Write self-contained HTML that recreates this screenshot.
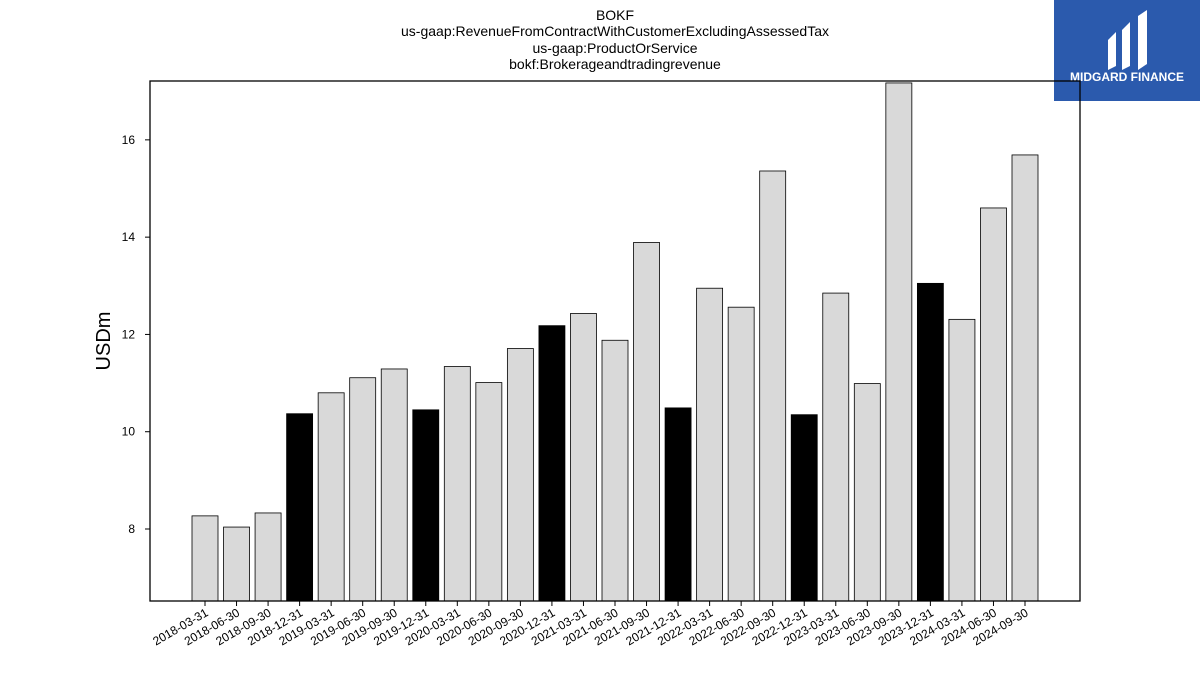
<!DOCTYPE html>
<html><head><meta charset="utf-8"><style>
body{margin:0;background:#fff;font-family:"Liberation Sans","DejaVu Sans",sans-serif;}
</style></head><body>
<svg id="chart" width="1200" height="675" xmlns="http://www.w3.org/2000/svg">
<g font-size="14" text-anchor="middle" fill="#000">
<text x="615" y="20">BOKF</text>
<text x="615" y="36">us-gaap:RevenueFromContractWithCustomerExcludingAssessedTax</text>
<text x="615" y="53">us-gaap:ProductOrService</text>
<text x="615" y="69">bokf:Brokerageandtradingrevenue</text>
</g>
<g>
<rect x="1054" y="0" width="146" height="101" fill="#2b5aad"/>
<path d="M1108 40 L1116 32 L1116 66 L1108 70 Z" fill="#fff"/>
<path d="M1122 30 L1130 22 L1130 66 L1122 70 Z" fill="#fff"/>
<path d="M1138 16 L1147 10 L1147 64 L1138 70 Z" fill="#fff"/>
<text x="1127" y="81" font-size="12" font-weight="bold" fill="#fff" text-anchor="middle">MIDGARD FINANCE</text>
</g>
<text transform="translate(110,341) rotate(-90)" font-size="20" text-anchor="middle">USDm</text>
<g id="plot"></g>
<rect x="150" y="81" width="930" height="520" fill="none" stroke="#000" stroke-width="1.3"/>
</svg>
<script>
const categories=["2018-03-31","2018-06-30","2018-09-30","2018-12-31","2019-03-31","2019-06-30","2019-09-30","2019-12-31","2020-03-31","2020-06-30","2020-09-30","2020-12-31","2021-03-31","2021-06-30","2021-09-30","2021-12-31","2022-03-31","2022-06-30","2022-09-30","2022-12-31","2023-03-31","2023-06-30","2023-09-30","2023-12-31","2024-03-31","2024-06-30","2024-09-30"];
const values=[8.27,8.04,8.33,10.37,10.80,11.11,11.29,10.45,11.34,11.01,11.71,12.18,12.43,11.88,13.89,10.49,12.95,12.56,15.36,10.35,12.85,10.99,17.17,13.05,12.31,14.60,15.69];
const yTicks=[8,10,12,14,16];
const yMin=6.52,yMax=17.21;
const ns="http://www.w3.org/2000/svg";
const g=document.getElementById('plot');
const x0=150,x1=1080,y0=601,y1=81;
const y=v=>y0-(v-yMin)/(yMax-yMin)*(y0-y1);
const step=(1025-205)/(categories.length-1);
const xc=i=>205+i*step;
const bw=26;
function mk(t,a){const e=document.createElementNS(ns,t);for(const k in a)e.setAttribute(k,a[k]);g.appendChild(e);return e;}
values.forEach((v,i)=>{
 const r=mk('rect',{x:xc(i)-bw/2,y:y(v),width:bw,height:y0-y(v),fill:categories[i].endsWith('12-31')?'#000':'#d9d9d9',stroke:'#000','stroke-width':0.8});
 
 
 const t=mk('line',{x1:xc(i),x2:xc(i),y1:y0,y2:y0+5,stroke:'#000'});
 
 
 const l=mk('text',{x:xc(i)+4,y:y0+14,'font-size':12,'text-anchor':'end',transform:`rotate(-30 ${xc(i)+4} ${y0+14})`});
 l.textContent=categories[i];
 
 
});
yTicks.forEach(v=>{
 const t=mk('line',{x1:x0-5,x2:x0,y1:y(v),y2:y(v),stroke:'#000'});
 
 
 const l=mk('text',{x:x0-15,y:y(v)+4,'font-size':12,'text-anchor':'end'});
 l.textContent=v;
 
 
});
</script>
</body></html>
